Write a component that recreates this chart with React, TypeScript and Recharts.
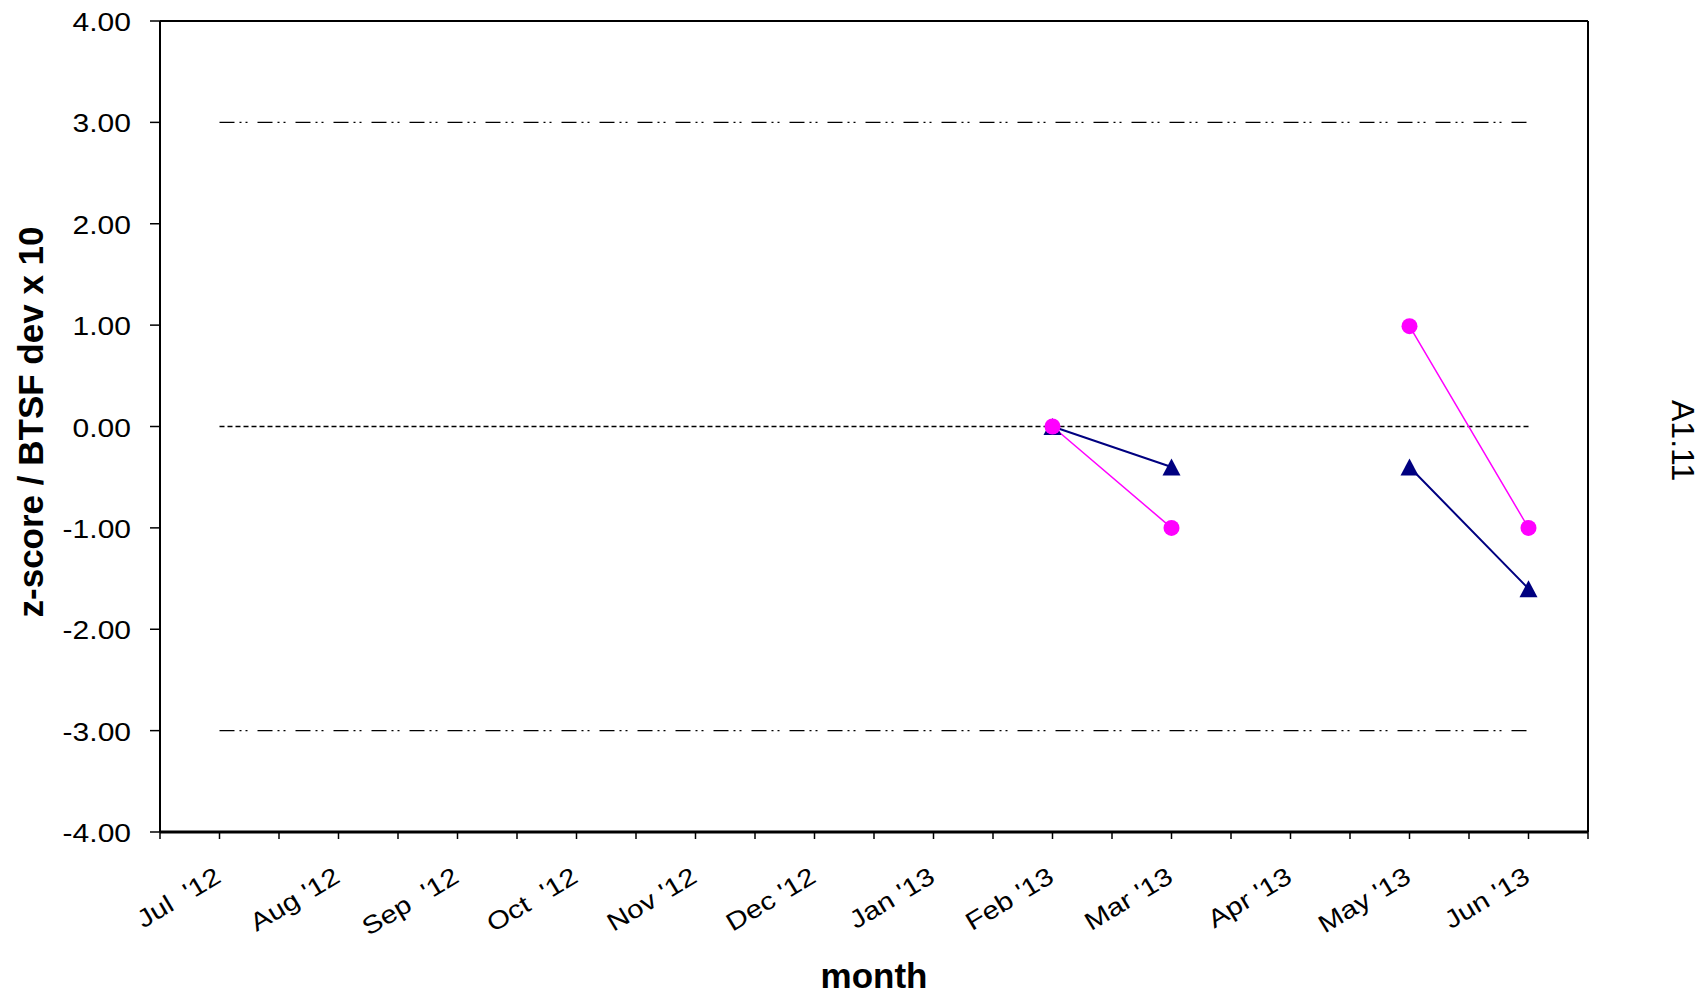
import { Line, LineChart, ReferenceLine, XAxis, YAxis } from "recharts";

const months = [
  "Jul  '12",
  "Aug '12",
  "Sep  '12",
  "Oct  '12",
  "Nov '12",
  "Dec '12",
  "Jan '13",
  "Feb '13",
  "Mar '13",
  "Apr '13",
  "May '13",
  "Jun '13",
];

// z-score (magenta circles) and BTSF deviation x 10 (navy triangles)
const zScore = [null, null, null, null, null, null, null, 0.0, -1.0, null, 0.99, -1.0];
const btsfDev = [null, null, null, null, null, null, null, 0.0, -0.4, null, -0.4, -1.6];

const yTicks = [-4, -3, -2, -1, 0, 1, 2, 3, 4];
const controlLimits = [3, -3];
const centreLine = 0;

const FONT = "'Liberation Sans', Arial, sans-serif";
const MAGENTA = "#FF00FF";
const NAVY = "#000080";

const data = months.map((month, i) => ({
  idx: i,
  month,
  z: zScore[i],
  dev: btsfDev[i],
}));

// ticks at each month and half-way between them (Excel style)
const xTicks = Array.from({ length: months.length * 2 + 1 }, (_, i) => -0.5 + i * 0.5);

function MonthTick(props: any) {
  const { x, y, payload } = props;
  const v = payload.value;
  if (!Number.isInteger(v)) return <g />;
  return (
    <g transform={`translate(${x + 3},${y + 40}) rotate(-31) scale(1.18,1)`}>
      <text
        textAnchor="end"
        fontSize={25}
        fontFamily={FONT}
        fill="#000"
        style={{ whiteSpace: "pre" }}
      >
        {months[v]}
      </text>
    </g>
  );
}

function ValueTick(props: any) {
  const { x, y, payload } = props;
  return (
    <g transform={`translate(${x - 17},${y + 10}) scale(1.2,1)`}>
      <text textAnchor="end" fontSize={25} fontFamily={FONT} fill="#000">
        {Number(payload.value).toFixed(2)}
      </text>
    </g>
  );
}

function CircleDot(props: any) {
  const { cx, cy, value, index } = props;
  if (value == null || cx == null || cy == null) return <g key={`c-${index}`} />;
  return <circle key={`c-${index}`} cx={cx} cy={cy} r={8} fill={MAGENTA} />;
}

function TriangleDot(props: any) {
  const { cx, cy, value, index } = props;
  if (value == null || cx == null || cy == null) return <g key={`t-${index}`} />;
  const pts = `${cx},${cy - 8.5} ${cx + 9},${cy + 8.5} ${cx - 9},${cy + 8.5}`;
  return <polygon key={`t-${index}`} points={pts} fill={NAVY} />;
}

export default function App() {
  const first = 0;
  const last = months.length - 1;
  return (
    <div style={{ position: "relative", width: 1704, height: 996, background: "#fff" }}>
      <style>{"body{margin:0;}"}</style>
      <LineChart
        width={1704}
        height={996}
        data={data}
        margin={{ top: 21, right: 116, left: 0, bottom: 0 }}
      >
        <XAxis
          type="number"
          dataKey="idx"
          domain={[-0.5, 11.5]}
          ticks={xTicks}
          interval={0}
          height={164}
          tickSize={7}
          tick={<MonthTick />}
          axisLine={{ stroke: "#000", strokeWidth: 3 }}
          tickLine={{ stroke: "#000", strokeWidth: 1.5 }}
        />
        <YAxis
          type="number"
          domain={[-4, 4]}
          ticks={yTicks}
          interval={0}
          width={160}
          tickSize={10}
          tick={<ValueTick />}
          axisLine={{ stroke: "#000", strokeWidth: 2 }}
          tickLine={{ stroke: "#000", strokeWidth: 1.5 }}
        />
        <ReferenceLine y={4} stroke="#000" strokeWidth={2} />
        <ReferenceLine x={11.5} stroke="#000" strokeWidth={2} />
        {controlLimits.map((lim) => (
          <ReferenceLine
            key={lim}
            segment={[
              { x: first, y: lim },
              { x: last, y: lim },
            ]}
            stroke="#000"
            strokeWidth={1.3}
            strokeDasharray="15 5 2 4 2 10"
          />
        ))}
        <ReferenceLine
          segment={[
            { x: first, y: centreLine },
            { x: last, y: centreLine },
          ]}
          stroke="#000"
          strokeWidth={1.5}
          strokeDasharray="5 3"
        />
        <Line
          type="linear"
          dataKey="dev"
          stroke={NAVY}
          strokeWidth={2}
          dot={TriangleDot}
          activeDot={false}
          connectNulls={false}
          isAnimationActive={false}
        />
        <Line
          type="linear"
          dataKey="z"
          stroke={MAGENTA}
          strokeWidth={1.5}
          dot={CircleDot}
          activeDot={false}
          connectNulls={false}
          isAnimationActive={false}
        />
      </LineChart>
      <svg
        width={1704}
        height={996}
        style={{ position: "absolute", left: 0, top: 0, pointerEvents: "none" }}
      >
        <text
          transform="translate(43,422) rotate(-90)"
          textAnchor="middle"
          fontSize={35}
          fontWeight="bold"
          fontFamily={FONT}
          fill="#000"
        >
          z-score / BTSF dev x 10
        </text>
        <text
          x={874}
          y={988}
          textAnchor="middle"
          fontSize={35}
          fontWeight="bold"
          fontFamily={FONT}
          fill="#000"
        >
          month
        </text>
        <text
          transform="translate(1672,400) rotate(90)"
          fontSize={32}
          fontFamily={FONT}
          fill="#000"
        >
          A1.11
        </text>
      </svg>
    </div>
  );
}
